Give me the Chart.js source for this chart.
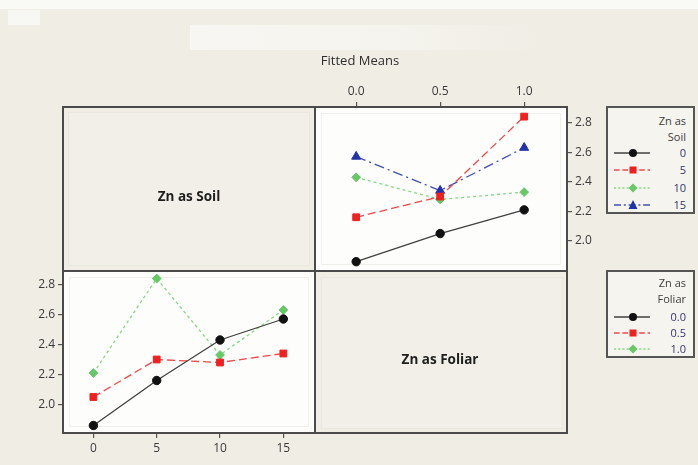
<!DOCTYPE html>
<html>
<head>
<meta charset="utf-8">
<script src="https://cdn.jsdelivr.net/npm/chart.js@4.4.1/dist/chart.umd.min.js"></script>
<style>
  html, body { margin: 0; padding: 0; width: 698px; height: 465px; overflow: hidden; background: #efede4; }
  #stage { position: relative; width: 698px; height: 465px; font-family: "Open Sans", "DejaVu Sans", sans-serif; }
  .abs { position: absolute; }
  canvas.layer { position: absolute; left: 0; top: 0; }
  .frame { position: absolute; box-sizing: border-box; border: 2px solid #4a4a4a; z-index: 5; }
  .rule { position: absolute; background: #4a4a4a; z-index: 5; }
  .txt { position: absolute; white-space: nowrap; z-index: 6; }
  .legend { position: absolute; box-sizing: border-box; border: 2px solid #555; background: #f5f4ef; z-index: 5; }
  .legend .hd { position: absolute; right: 7px; font-size: 11px; color: #3d3d3d; line-height: 12px; transform: translateY(-6px); }
  .legend .val { position: absolute; right: 7px; font-size: 11px; color: #35356e; line-height: 12px; transform: translateY(-6px); }
  .legend svg { position: absolute; left: 4px; }
</style>
</head>
<body>
<div id="stage">
  <!-- page trim -->
  <div class="abs" style="left:0;top:0;width:698px;height:9px;background:#f9f9f6;"></div>
  <div class="abs" style="left:8px;top:10px;width:32px;height:15px;background:#f7f7f3;"></div>
  <div class="abs" style="left:190px;top:25px;width:350px;height:25px;background:linear-gradient(90deg,#f7f6f2 0%,#f5f4ee 55%,#efede4 100%);"></div>

  <canvas id="soilByFoliar" class="layer" width="698" height="465"></canvas>
  <canvas id="foliarBySoil" class="layer" width="698" height="465"></canvas>

  <!-- matrix frame -->
  <div class="frame" style="left:62px;top:106px;width:506px;height:328px;"></div>
  <div class="rule" style="left:314px;top:106px;width:2px;height:328px;"></div>
  <div class="rule" style="left:62px;top:270px;width:506px;height:2px;"></div>
  <!-- faint inner edges of the label cells -->
  <div class="abs" style="left:68px;top:112px;width:240px;height:152px;border:1px solid #e9e7de;background:#f1efe7;"></div>
  <div class="abs" style="left:321px;top:277px;width:240px;height:150px;border:1px solid #e9e7de;background:#f1efe7;"></div>

  <div class="txt" style="left:360px;top:60px;transform:translate(-50%,-50%);font-size:13px;color:#2e2e2e;">Fitted Means</div>
  <div class="txt" style="left:189px;top:196px;transform:translate(-50%,-50%);font-size:13.5px;font-weight:700;color:#1e1e1e;">Zn as Soil</div>
  <div class="txt" style="left:440px;top:359px;transform:translate(-50%,-50%);font-size:13.5px;font-weight:700;color:#1e1e1e;">Zn as Foliar</div>

  <div id="legendSoil" class="legend" style="left:606px;top:106px;width:89px;height:108px;"></div>
  <div id="legendFoliar" class="legend" style="left:606px;top:270px;width:89px;height:88px;"></div>
</div>

<script>
// Factor levels
const foliarLevels = [0.0, 0.5, 1.0];
const soilLevels = [0, 5, 10, 15];
const foliarLabels = ['0.0', '0.5', '1.0'];
const soilLabels = ['0', '5', '10', '15'];
const meanTicks = [2.0, 2.2, 2.4, 2.6, 2.8];

// Fitted means for each Zn soil rate, ordered by Zn foliar rate (0.0, 0.5, 1.0)
const soil0 = [1.86, 2.05, 2.21];
const soil5 = [2.16, 2.30, 2.84];
const soil10 = [2.43, 2.28, 2.33];
const soil15 = [2.57, 2.34, 2.63];
const soilSeries = [soil0, soil5, soil10, soil15];

// Series appearance (one per level, in legend order)
const looks = [
  { mark: '#111111', line: '#404040', dash: [],            shape: 'circle',   r: 4.2 },
  { mark: '#ee2020', line: '#f04848', dash: [8, 4],        shape: 'rect',     r: 4.8 },
  { mark: '#66c866', line: '#86d686', dash: [3, 3],        shape: 'rectRot',  r: 4.4 },
  { mark: '#2233aa', line: '#4050b8', dash: [10, 4, 2, 4], shape: 'triangle', r: 5.2 },
];

const tickFont = { family: '"Open Sans", "DejaVu Sans", sans-serif', size: 12 };
const tickColor = '#3a3a3a';

// white plotting field behind the lines
const panelFill = {
  id: 'panelFill',
  beforeDraw(chart) {
    const a = chart.chartArea, c = chart.ctx;
    c.save();
    c.fillStyle = '#fdfdfc';
    c.fillRect(a.left, a.top, a.right - a.left, a.bottom - a.top);
    c.strokeStyle = '#f0efeb';
    c.lineWidth = 1;
    c.strokeRect(a.left + 6.5, a.top + 6.5, a.right - a.left - 13, a.bottom - a.top - 13);
    c.restore();
  }
};

function makeDataset(label, xs, ys, look) {
  return {
    label,
    data: xs.map((x, i) => ({ x, y: ys[i] })),
    borderColor: look.line,
    borderWidth: 1.3,
    borderDash: look.dash,
    pointStyle: look.shape,
    pointRadius: look.r,
    pointBackgroundColor: look.mark,
    pointBorderColor: look.mark,
    pointBorderWidth: 1,
    fill: false,
    tension: 0,
  };
}

function axis(opts) {
  const { position, min, max, ticks, fmt, size } = opts;
  const horizontal = position === 'top' || position === 'bottom';
  return {
    type: 'linear',
    position,
    min, max,
    afterBuildTicks(s) { s.ticks = ticks.map(v => ({ value: v })); },
    afterFit(s) { if (horizontal) s.height = size; else s.width = size; },
    grid: { drawOnChartArea: false, drawTicks: true, tickLength: 5, color: '#555', lineWidth: 1.2 },
    border: { display: false },
    ticks: {
      autoSkip: false, maxRotation: 0, padding: 3,
      color: tickColor, font: tickFont,
      callback: fmt,
    },
  };
}

function baseOptions(padding, scales) {
  return {
    responsive: false,
    animation: false,
    devicePixelRatio: 1,
    layout: { padding },
    plugins: { legend: { display: false }, tooltip: { enabled: false } },
    scales,
  };
}

// Top-right cell: x = Zn as Foliar, one line per Zn soil rate
new Chart(document.getElementById('soilByFoliar'), {
  type: 'line',
  data: {
    datasets: soilSeries.map((ys, i) => makeDataset(soilLabels[i], foliarLevels, ys, looks[i])),
  },
  options: baseOptions(
    { left: 315, top: 77, right: 91, bottom: 194 },
    {
      x: axis({ position: 'top', min: -0.245, max: 1.255, ticks: foliarLevels, fmt: v => Number(v).toFixed(1), size: 30 }),
      y: axis({ position: 'right', min: 1.797, max: 2.905, ticks: meanTicks, fmt: v => Number(v).toFixed(1), size: 40 }),
    }
  ),
  plugins: [panelFill],
});

// Bottom-left cell: x = Zn as Soil, one line per Zn foliar rate
new Chart(document.getElementById('foliarBySoil'), {
  type: 'line',
  data: {
    datasets: foliarLevels.map((f, j) =>
      makeDataset(foliarLabels[j], soilLevels, soilSeries.map(row => row[j]), looks[j])),
  },
  options: baseOptions(
    { left: 23, top: 271, right: 383, bottom: 2 },
    {
      x: axis({ position: 'bottom', min: -2.4, max: 17.5, ticks: soilLevels, fmt: v => String(v), size: 30 }),
      y: axis({ position: 'left', min: 1.81, max: 2.89, ticks: meanTicks, fmt: v => Number(v).toFixed(1), size: 40 }),
    }
  ),
  plugins: [panelFill],
});

// Legend swatches: short line with the marker in its middle
function swatch(look) {
  const ns = 'http://www.w3.org/2000/svg';
  const svg = document.createElementNS(ns, 'svg');
  svg.setAttribute('width', '40');
  svg.setAttribute('height', '12');
  const ln = document.createElementNS(ns, 'line');
  ln.setAttribute('x1', '2'); ln.setAttribute('x2', '38');
  ln.setAttribute('y1', '6'); ln.setAttribute('y2', '6');
  ln.setAttribute('stroke', look.line);
  ln.setAttribute('stroke-width', '1.4');
  if (look.dash.length) ln.setAttribute('stroke-dasharray', look.dash.map(d => Math.max(2, d * 0.7)).join(' '));
  svg.appendChild(ln);
  let m;
  if (look.shape === 'circle') {
    m = document.createElementNS(ns, 'circle');
    m.setAttribute('cx', '21'); m.setAttribute('cy', '6'); m.setAttribute('r', '4');
  } else if (look.shape === 'rect') {
    m = document.createElementNS(ns, 'rect');
    m.setAttribute('x', '17.5'); m.setAttribute('y', '2.5'); m.setAttribute('width', '7'); m.setAttribute('height', '7');
  } else if (look.shape === 'rectRot') {
    m = document.createElementNS(ns, 'polygon');
    m.setAttribute('points', '21,1.5 25.5,6 21,10.5 16.5,6');
  } else {
    m = document.createElementNS(ns, 'polygon');
    m.setAttribute('points', '21,1 25.5,10 16.5,10');
  }
  m.setAttribute('fill', look.mark);
  svg.appendChild(m);
  return svg;
}

function buildLegend(el, title, labels, rowYs, headYs) {
  title.forEach((t, i) => {
    const d = document.createElement('div');
    d.className = 'hd'; d.textContent = t; d.style.top = headYs[i] + 'px';
    el.appendChild(d);
  });
  labels.forEach((lab, i) => {
    const s = swatch(looks[i]);
    s.style.top = (rowYs[i] - 6) + 'px';
    el.appendChild(s);
    const d = document.createElement('div');
    d.className = 'val'; d.textContent = lab; d.style.top = rowYs[i] + 'px';
    el.appendChild(d);
  });
}

buildLegend(document.getElementById('legendSoil'), ['Zn as', 'Soil'], soilLabels, [45, 62, 80, 97], [13, 29]);
buildLegend(document.getElementById('legendFoliar'), ['Zn as', 'Foliar'], foliarLabels, [45, 61, 77], [11, 27]);
</script>
</body>
</html>
